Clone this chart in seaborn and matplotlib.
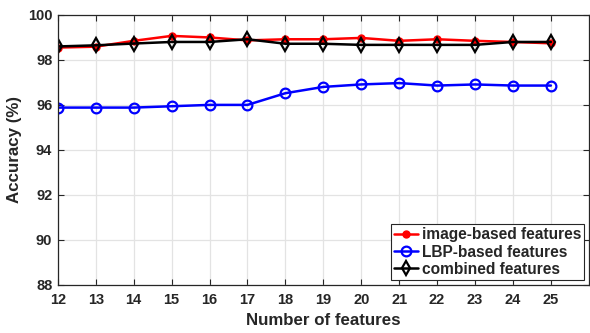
import matplotlib
matplotlib.use("Agg")
import matplotlib.pyplot as plt
import seaborn as sns
import pandas as pd

features = [12, 13, 14, 15, 16, 17, 18, 19, 20, 21, 22, 23, 24, 25]
image_based = [98.55, 98.59, 98.85, 99.07, 99.0, 98.87, 98.92, 98.92, 98.98, 98.85, 98.92, 98.85, 98.8, 98.74]
lbp_based = [95.88, 95.88, 95.88, 95.94, 96.0, 96.0, 96.52, 96.8, 96.91, 96.97, 96.86, 96.91, 96.86, 96.86]
combined = [98.6, 98.65, 98.73, 98.8, 98.8, 98.92, 98.72, 98.72, 98.67, 98.67, 98.67, 98.67, 98.8, 98.8]
labels = ["image-based features", "LBP-based features", "combined features"]
x_ticks = list(range(12, 26))
y_ticks = [88, 90, 92, 94, 96, 98, 100]

sns.set_style("whitegrid")
plt.rcParams["font.family"] = ["Liberation Sans", "DejaVu Sans"]
plt.rcParams["font.weight"] = "bold"

fig = plt.figure(figsize=(5.9, 3.33), dpi=100)
ax = fig.add_axes([0.098, 0.145, 0.900, 0.81])

sns.lineplot(x=features, y=image_based, ax=ax, color="red", linewidth=1.8,
             marker="o", markersize=5, markeredgecolor="red", markerfacecolor="red",
             markeredgewidth=1, label=labels[0])
sns.lineplot(x=features, y=lbp_based, ax=ax, color="blue", linewidth=1.8,
             marker="o", markersize=7, markeredgecolor="blue", markerfacecolor="none",
             markeredgewidth=1.6, label=labels[1])
sns.lineplot(x=features, y=combined, ax=ax, color="black", linewidth=1.8,
             marker="d", markersize=7.5, markeredgecolor="black", markerfacecolor="none",
             markeredgewidth=1.6, label=labels[2])

ax.set_xlim(12, 26)
ax.set_ylim(88, 100)
ax.set_xticks(x_ticks)
ax.set_yticks(y_ticks)
ax.grid(True, color="#e3e3e3", linewidth=0.9)
for s in ax.spines.values():
    s.set_visible(True)
    s.set_color("#262626")
    s.set_linewidth(0.9)
ax.tick_params(direction="in", length=4, width=0.8, color="#262626",
               top=True, right=True, bottom=True, left=True,
               labelsize=10.5)
ax.tick_params(axis="x", pad=6)
ax.tick_params(axis="y", pad=4)
for lab in ax.get_xticklabels() + ax.get_yticklabels():
    lab.set_fontweight("bold")
    lab.set_color("#262626")
ax.set_xlabel("Number of features", fontsize=12.2, fontweight="bold", color="#262626", labelpad=4)
ax.set_ylabel("Accuracy (%)", fontsize=12.2, fontweight="bold", color="#262626", labelpad=4)

leg = ax.legend(loc="lower right", frameon=True, fancybox=False, framealpha=1,
                edgecolor="#262626", fontsize=11.2, handlelength=1.5,
                handletextpad=0.25, borderpad=0.2, labelspacing=0.15,
                borderaxespad=0.3)
leg.get_frame().set_linewidth(0.8)
for t in leg.get_texts():
    t.set_fontweight("bold")

fig.savefig("out.png", dpi=100)
